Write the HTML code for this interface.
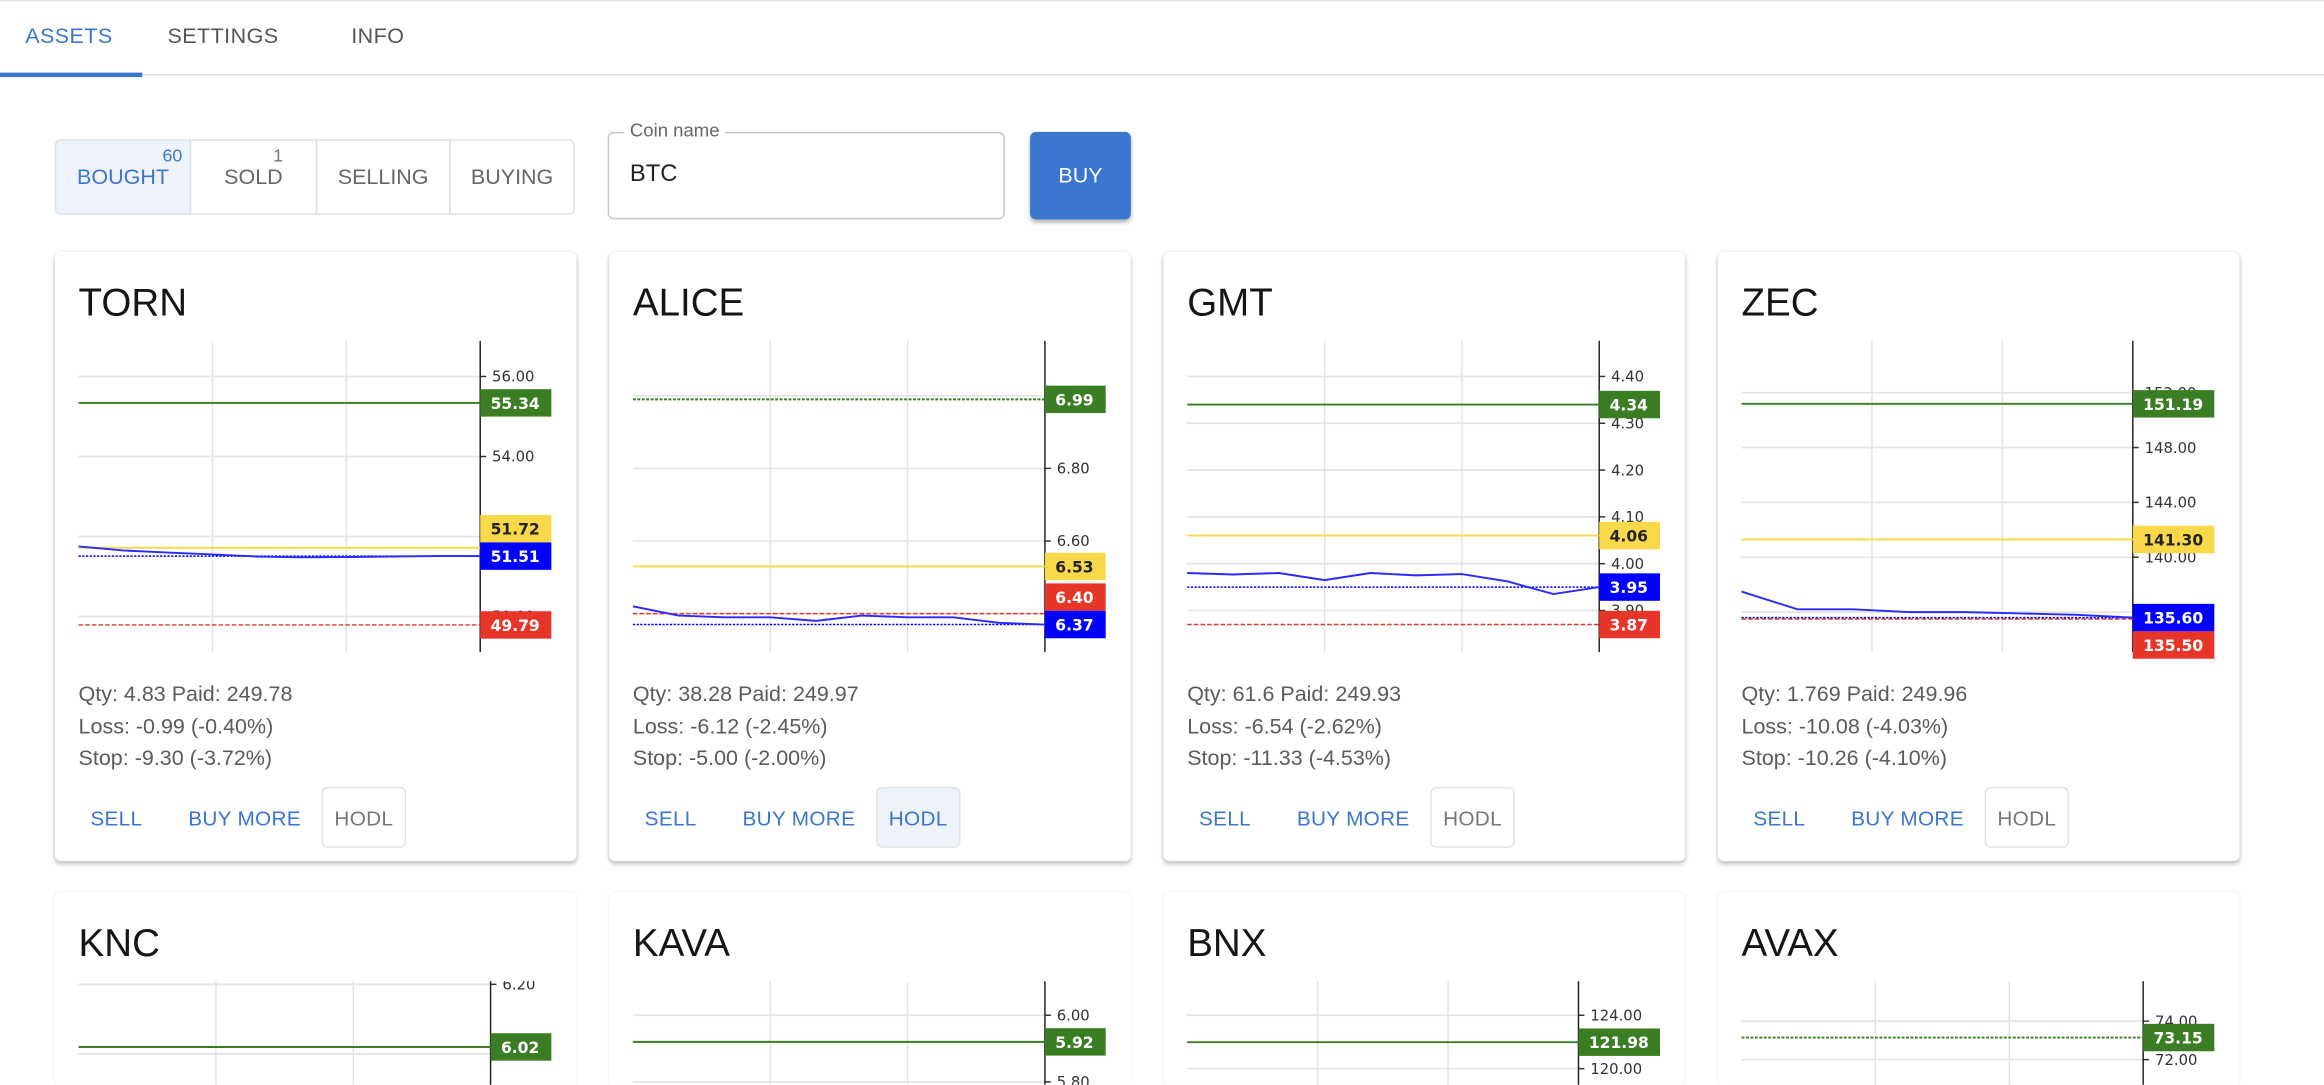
<!DOCTYPE html>
<html><head><meta charset="utf-8">
<style>
html,body{margin:0;padding:0;width:2324px;height:1085px;overflow:hidden;background:#fff;font-family:"Liberation Sans",Arial,sans-serif;}
#clip{position:relative;width:2324px;height:1085px;overflow:hidden;}
#root{position:absolute;left:0;top:0;width:1568px;height:732px;overflow:hidden;transform:scale(1.48214);transform-origin:0 0;}
.abs{position:absolute;}
.tab{position:absolute;top:17px;font-size:14.5px;color:#555;letter-spacing:.3px;}
.tg{position:absolute;top:94px;height:51px;border:1px solid #dde0e4;box-sizing:border-box;font-size:14.5px;color:#666;display:flex;align-items:center;justify-content:center;}
.badge{position:absolute;top:3px;right:5px;font-size:12px;color:#777;}
.card{position:absolute;width:352px;height:411px;background:#fff;border-radius:4px;box-shadow:0 2px 3px rgba(0,0,0,.22),0 0 2px rgba(0,0,0,.08);}
.card.cut{height:130px;overflow:hidden;box-shadow:0 0 2px rgba(0,0,0,.08);}
.title{position:absolute;left:16px;top:19px;font-size:26px;color:#151515;}
.info{position:absolute;left:16px;top:289px;font-size:14.5px;color:#5b5b5b;line-height:21.5px;}
.btn{position:absolute;top:361px;height:41px;font-size:14px;color:#3a76cf;display:flex;align-items:center;justify-content:center;letter-spacing:.2px;}
.hodl{border:1px solid #e2e2e2;border-radius:4px;box-sizing:border-box;color:#777;}
svg text{font-family:"DejaVu Sans","Liberation Sans",sans-serif;}
</style></head>
<body>
<div id="clip">
<div id="root">
  <div class="abs" style="left:0;top:0;width:1568px;height:1px;background:#e5e5e5"></div>
  <div class="tab" style="left:17px;color:#3a76cf">ASSETS</div>
  <div class="tab" style="left:113px">SETTINGS</div>
  <div class="tab" style="left:237px">INFO</div>
  <div class="abs" style="left:0;top:50px;width:1568px;height:1px;background:#dcdcdc"></div>
  <div class="abs" style="left:0;top:49px;width:96px;height:3px;background:#3a76cf"></div>

  <div class="tg" style="left:37px;width:92px;background:#eef3fb;color:#3a76cf;border-radius:4px 0 0 4px">BOUGHT<span class="badge" style="color:#3a76cf">60</span></div>
  <div class="tg" style="left:128px;width:86px">SOLD<span class="badge" style="right:22px">1</span></div>
  <div class="tg" style="left:213px;width:91px">SELLING</div>
  <div class="tg" style="left:303px;width:85px;border-radius:0 4px 4px 0">BUYING</div>

  <div class="abs" style="left:410px;top:89px;width:268px;height:59px;border:1px solid #c8c8c8;border-radius:4px;box-sizing:border-box">
    <div class="abs" style="left:10px;top:-9px;background:#fff;padding:0 4px;font-size:12.5px;color:#666">Coin name</div>
    <div class="abs" style="left:14px;top:19px;font-size:16px;color:#222">BTC</div>
  </div>
  <div class="abs" style="left:695px;top:89px;width:68px;height:59px;background:#3a76cf;border-radius:4px;box-shadow:0 2px 3px rgba(0,0,0,.3);color:#fff;font-size:14.5px;display:flex;align-items:center;justify-content:center">BUY</div>

  <div id="cards"></div>
</div>
</div>
<script>
const coins = ["TORN","ALICE","GMT","ZEC","KNC","KAVA","BNX","AVAX"];
const domainTop = [56.89, 7.151, 4.476, 155.78, 6.209, 6.102, 126.56, 76.08];
const domainBottom = [49.11, 6.294, 3.811, 133.08, 5.315, 5.169, 103.2, 59.9];
const tickTORN = [56, 54, 52, 50];
const tickALICE = [7.0, 6.8, 6.6, 6.4];
const tickGMT = [4.4, 4.3, 4.2, 4.1, 4.0, 3.9];
const tickZEC = [152, 148, 144, 140, 136];
const tickKNC = [6.2, 6.0, 5.8, 5.6, 5.4];
const tickKAVA = [6.0, 5.8, 5.6, 5.4];
const tickBNX = [124, 120, 116, 112];
const tickAVAX = [74, 72, 70, 68];
const targets = [55.34, 6.99, 4.34, 151.19, 6.02, 5.92, 121.98, 73.15];
const paids = [51.72, 6.53, 4.06, 141.30, 5.57, 5.38, 113.4, 68.0];
const currents = [51.51, 6.37, 3.95, 135.60, 5.52, 5.35, 112.8, 67.2];
const stops = [49.79, 6.40, 3.87, 135.50, 5.35, 5.19, 109.0, 65.3];
const targetDotted = [false, true, false, false, false, false, false, true];
const priceTORN = [51.75, 51.65, 51.6, 51.55, 51.5, 51.48, 51.49, 51.5, 51.51, 51.51];
const priceALICE = [6.42, 6.395, 6.39, 6.39, 6.38, 6.395, 6.39, 6.39, 6.375, 6.37];
const priceGMT = [3.98, 3.977, 3.98, 3.965, 3.98, 3.975, 3.978, 3.962, 3.935, 3.95];
const priceZEC = [137.5, 136.2, 136.2, 136.0, 136.0, 135.9, 135.8, 135.6];
const priceKNC = [5.55, 5.54, 5.53, 5.52];
const priceKAVA = [5.37, 5.36, 5.35, 5.35];
const priceBNX = [113.2, 113.0, 112.8, 112.8];
const priceAVAX = [67.5, 67.3, 67.2, 67.2];
const qtys = ["4.83","38.28","61.6","1.769","41.5","42.2","2.05","3.42"];
const paidTotals = ["249.78","249.97","249.93","249.96","249.90","249.88","249.96","249.95"];
const losses = ["-0.99 (-0.40%)","-6.12 (-2.45%)","-6.54 (-2.62%)","-10.08 (-4.03%)","-0.80 (-0.32%)","-1.10 (-0.44%)","-0.90 (-0.36%)","-1.20 (-0.48%)"];
const stopsTxt = ["-9.30 (-3.72%)","-5.00 (-2.00%)","-11.33 (-4.53%)","-10.26 (-4.10%)","-5.00 (-2.00%)","-5.00 (-2.00%)","-5.00 (-2.00%)","-5.00 (-2.00%)"];
const ticksAll = [tickTORN, tickALICE, tickGMT, tickZEC, tickKNC, tickKAVA, tickBNX, tickAVAX];
const pricesAll = [priceTORN, priceALICE, priceGMT, priceZEC, priceKNC, priceKAVA, priceBNX, priceAVAX];
const hodlActive = [false, true, false, false, false, false, false, false];

const NS = "http://www.w3.org/2000/svg";
const cardsEl = document.getElementById('cards');
const colX = [37, 411, 785, 1159];
const rowY = [170, 602];
const PH = 210, TAGR = 335;

function mk(tag, attrs){const e=document.createElementNS(NS,tag);for(const k in attrs)e.setAttribute(k,attrs[k]);return e;}
function fmt(v){return v.toFixed(2);}

coins.forEach((coin, i) => {
  const row = Math.floor(i / 4);
  const card = document.createElement('div');
  card.className = row === 1 ? 'card cut' : 'card';
  card.style.left = colX[i % 4] + 'px';
  card.style.top = rowY[row] + 'px';
  
  
  cardsEl.appendChild(card);

  const t = document.createElement('div');
  t.className = 'title'; t.textContent = coin;
  
  
  card.appendChild(t);

  const tagLabel = fmt(targets[i]);
  const tagW = tagLabel.length * 7 + 13;
  const axisX = TAGR - tagW;
  const plotL = 16;
  const y = v => (domainTop[i] - v) / (domainTop[i] - domainBottom[i]) * PH;
  const svgH = row === 1 ? 70 : PH + 2;

  const svg = mk('svg', {width: 352, height: svgH, style: 'position:absolute;left:0;top:60px;overflow:' + (row === 1 ? 'hidden' : 'visible')});
  
  
  card.appendChild(svg);

  for (let k = 1; k <= 2; k++) {
    const gx = plotL + (axisX - plotL) * k / 3;
    const g = mk('line', {x1: gx, x2: gx, y1: 0, y2: PH, stroke: '#e4e4e4', 'stroke-width': 1});
    
    
    svg.appendChild(g);
  }
  ticksAll[i].forEach(tv => {
    const ty = y(tv);
    if (ty < 0 || ty > PH) return;
    const g = mk('line', {x1: plotL, x2: axisX, y1: ty, y2: ty, stroke: '#e4e4e4', 'stroke-width': 1.2});
    
    
    svg.appendChild(g);
    const tk = mk('line', {x1: axisX, x2: axisX + 4, y1: ty, y2: ty, stroke: '#333'});
    
    
    svg.appendChild(tk);
    const tl = mk('text', {x: axisX + 8, y: ty + 3.5, 'font-size': 10, fill: '#333'});
    tl.textContent = tv.toFixed(2);
    
    
    svg.appendChild(tl);
  });
  const ax = mk('line', {x1: axisX, x2: axisX, y1: 0, y2: PH, stroke: '#222', 'stroke-width': 1});
  
  
  svg.appendChild(ax);

  const levels = [
    {v: targets[i], c: '#3a7d23', dash: targetDotted[i] ? '2,1' : '', name: 'target-line', w: 1.3},
    {v: paids[i], c: '#f9d949', dash: '', name: 'paid-line', w: 1.3},
    {v: stops[i], c: '#e8352a', dash: '3,1.5', name: 'stop-line', w: 1},
    {v: currents[i], c: '#0000ff', dash: '1.5,1', name: 'current-line', w: 1}
  ];
  levels.forEach(L => {
    const ly = y(L.v);
    const ln = mk('line', {x1: plotL, x2: axisX, y1: ly, y2: ly, stroke: L.c, 'stroke-width': L.w});
    if (L.dash) ln.setAttribute('stroke-dasharray', L.dash);
    
    
    svg.appendChild(ln);
  });
  const pr = pricesAll[i];
  const pts = pr.map((v, k) => (plotL + (axisX - plotL) * k / (pr.length - 1)).toFixed(1) + ',' + y(v).toFixed(1)).join(' ');
  const pl = mk('polyline', {points: pts, fill: 'none', stroke: '#2a2aff', 'stroke-width': 1.3});
  
  
  svg.appendChild(pl);

  const TH = 18.5;
  const cur = y(currents[i]);
  const tags = [
    {v: targets[i], bg: '#3a7d23', fg: '#fff', name: 'target-tag'},
    {v: paids[i], bg: '#f9d949', fg: '#222', name: 'paid-tag'},
    {v: stops[i], bg: '#e8352a', fg: '#fff', name: 'stop-tag'}
  ].map(o => Object.assign(o, {cy: y(o.v)}));
  const above = tags.filter(o => o.cy <= cur).sort((a, b) => b.cy - a.cy);
  const below = tags.filter(o => o.cy > cur).sort((a, b) => a.cy - b.cy);
  let lim = cur;
  above.forEach(o => { if (o.cy > lim - TH) o.cy = lim - TH; lim = o.cy; });
  lim = cur;
  below.forEach(o => { if (o.cy < lim + TH) o.cy = lim + TH; lim = o.cy; });
  tags.push({v: currents[i], bg: '#0000ff', fg: '#fff', name: 'current-tag', cy: cur});
  tags.forEach(o => {
    const r = mk('rect', {x: axisX, y: o.cy - TH / 2, width: tagW, height: TH, fill: o.bg});
    
    
    svg.appendChild(r);
    const tt = mk('text', {x: axisX + 7, y: o.cy + 4, 'font-size': 10.5, 'font-weight': 'bold', fill: o.fg});
    tt.textContent = fmt(o.v);
    
    
    svg.appendChild(tt);
  });

  if (row === 1) return;

  const info = document.createElement('div');
  info.className = 'info';
  info.innerHTML = 'Qty: ' + qtys[i] + ' Paid: ' + paidTotals[i] + '<br>Loss: ' + losses[i] + '<br>Stop: ' + stopsTxt[i];
  
  
  card.appendChild(info);

  const b1 = document.createElement('div');
  b1.className = 'btn'; b1.textContent = 'SELL';
  b1.style.left = '13px'; b1.style.width = '57px';
  
  
  card.appendChild(b1);
  const b2 = document.createElement('div');
  b2.className = 'btn'; b2.textContent = 'BUY MORE';
  b2.style.left = '80px'; b2.style.width = '96px';
  
  
  card.appendChild(b2);
  const b3 = document.createElement('div');
  b3.className = 'btn hodl'; b3.textContent = 'HODL';
  b3.style.left = '180px'; b3.style.width = '57px';
  if (hodlActive[i]) { b3.style.background = '#eef3fb'; b3.style.color = '#3a76cf'; }
  
  
  card.appendChild(b3);
});
</script>
</body></html>
